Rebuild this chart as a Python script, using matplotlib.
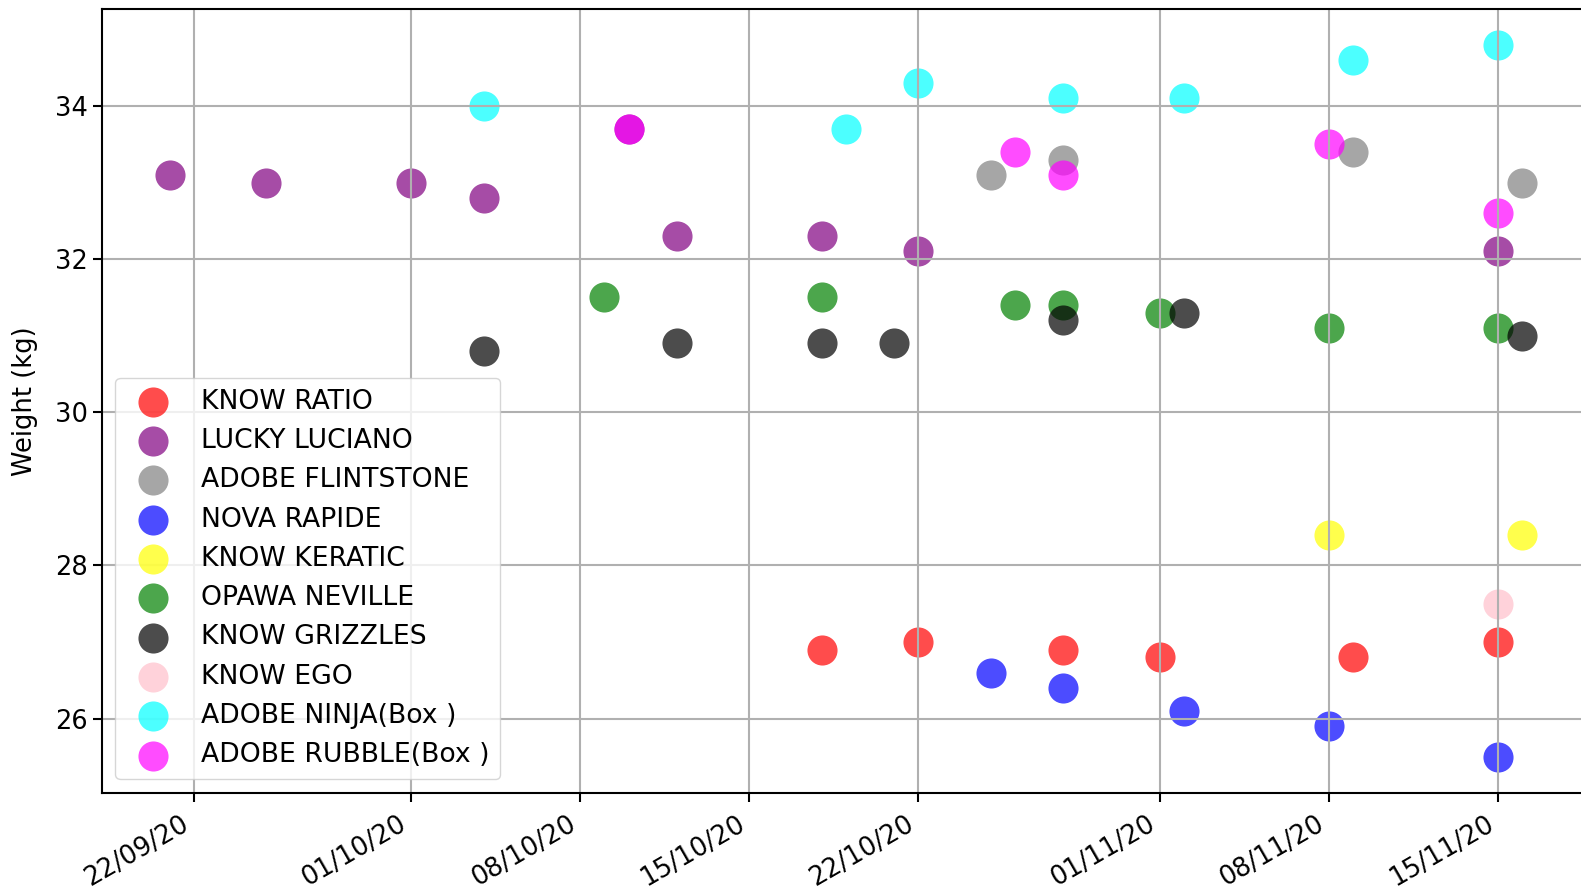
import matplotlib
matplotlib.use("Agg")
import matplotlib.pyplot as plt
import matplotlib.dates as mdates
import pandas as pd

series_names = ["KNOW RATIO", "LUCKY LUCIANO", "ADOBE FLINTSTONE", "NOVA RAPIDE",
                "KNOW KERATIC", "OPAWA NEVILLE", "KNOW GRIZZLES", "KNOW EGO",
                "ADOBE NINJA(Box )", "ADOBE RUBBLE(Box )"]
series_colors = ["red", "purple", "gray", "blue", "yellow", "green", "black",
                 "pink", "cyan", "magenta"]

know_ratio_dates = ["2020-10-18", "2020-10-22", "2020-10-28", "2020-11-01", "2020-11-09", "2020-11-15"]
know_ratio_w = [26.9, 27.0, 26.9, 26.8, 26.8, 27.0]

lucky_luciano_dates = ["2020-09-21", "2020-09-25", "2020-10-01", "2020-10-04", "2020-10-10",
                       "2020-10-12", "2020-10-18", "2020-10-22", "2020-11-15"]
lucky_luciano_w = [33.1, 33.0, 33.0, 32.8, 33.7, 32.3, 32.3, 32.1, 32.1]

flintstone_dates = ["2020-10-25", "2020-10-28", "2020-11-09", "2020-11-16"]
flintstone_w = [33.1, 33.3, 33.4, 33.0]

nova_rapide_dates = ["2020-10-25", "2020-10-28", "2020-11-02", "2020-11-08", "2020-11-15"]
nova_rapide_w = [26.6, 26.4, 26.1, 25.9, 25.5]

keratic_dates = ["2020-11-08", "2020-11-16"]
keratic_w = [28.4, 28.4]

opawa_dates = ["2020-10-09", "2020-10-18", "2020-10-26", "2020-10-28", "2020-11-01",
               "2020-11-08", "2020-11-15"]
opawa_w = [31.5, 31.5, 31.4, 31.4, 31.3, 31.1, 31.1]

grizzles_dates = ["2020-10-04", "2020-10-12", "2020-10-18", "2020-10-21", "2020-10-28",
                  "2020-11-02", "2020-11-16"]
grizzles_w = [30.8, 30.9, 30.9, 30.9, 31.2, 31.3, 31.0]

ego_dates = ["2020-11-15"]
ego_w = [27.5]

ninja_dates = ["2020-10-04", "2020-10-19", "2020-10-22", "2020-10-28", "2020-11-02",
               "2020-11-09", "2020-11-15"]
ninja_w = [34.0, 33.7, 34.3, 34.1, 34.1, 34.6, 34.8]

rubble_dates = ["2020-10-10", "2020-10-26", "2020-10-28", "2020-11-08", "2020-11-15"]
rubble_w = [33.7, 33.4, 33.1, 33.5, 32.6]

all_dates = [know_ratio_dates, lucky_luciano_dates, flintstone_dates, nova_rapide_dates,
             keratic_dates, opawa_dates, grizzles_dates, ego_dates, ninja_dates, rubble_dates]
all_weights = [know_ratio_w, lucky_luciano_w, flintstone_w, nova_rapide_w, keratic_w,
               opawa_w, grizzles_w, ego_w, ninja_w, rubble_w]

tick_dates = ["2020-09-22", "2020-10-01", "2020-10-08", "2020-10-15", "2020-10-22",
              "2020-11-01", "2020-11-08", "2020-11-15"]
y_ticks = [26, 28, 30, 32, 34]

fig = plt.figure(figsize=(15.81, 8.9), dpi=100)
ax = fig.add_axes([102 / 1581, 1 - 792.5 / 890, 1488 / 1581, 783.4 / 890])

for name, color, d, w in zip(series_names, series_colors, all_dates, all_weights):
    ax.scatter(pd.to_datetime(d), w, s=470, color=color, alpha=0.7, label=name,
               linewidths=0)

ax.set_xticks(pd.to_datetime(tick_dates))
ax.xaxis.set_major_formatter(mdates.DateFormatter("%d/%m/%y"))
ax.set_yticks(y_ticks)
ax.grid(True, color="#b0b0b0", linewidth=1.5)
ax.tick_params(labelsize=18.5, length=6.5, width=1.5)
ax.tick_params(axis="x", pad=7)
for lab in ax.get_xticklabels():
    lab.set_rotation(30)
    lab.set_ha("right")
for sp in ax.spines.values():
    sp.set_linewidth(1.5)
ax.set_ylabel("Weight (kg)", fontsize=18.5, labelpad=12)
ax.legend(loc="lower left", fontsize=19.2, borderaxespad=0.5)

fig.savefig("out.png", dpi=100)
